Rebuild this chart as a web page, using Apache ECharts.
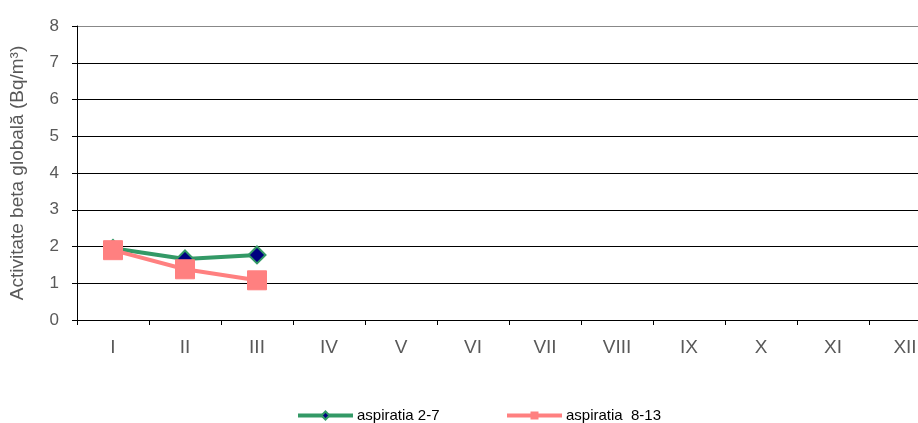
<!DOCTYPE html>
<html>
<head>
<meta charset="utf-8">
<script src="https://cdn.jsdelivr.net/npm/echarts@6/dist/echarts.min.js"></script>
<style>html,body{margin:0;padding:0;background:#fff;}#c{width:918px;height:423px;}</style>
</head>
<body>
<div id="c"></div>
<script>
const categories = ['I','II','III','IV','V','VI','VII','VIII','IX','X','XI','XII'];
const seriesNames = ['aspiratia 2-7', 'aspiratia  8-13'];
const aspiratia27 = [1.95, 1.66, 1.77, null, null, null, null, null, null, null, null, null];
const aspiratia813 = [1.9, 1.38, 1.08, null, null, null, null, null, null, null, null, null];
const yTicks = [0, 8, 1];

const chart = echarts.init(document.getElementById('c'));
const font = 'Liberation Sans, Arial, sans-serif';
const legendBase = {
  bottom: 0,
  padding: 0,
  itemWidth: 55,
  itemHeight: 10,
  itemGap: 4,
  textStyle: { fontFamily: font, fontSize: 15, color: '#000', padding: [0, 0, 0, -1] },
  lineStyle: { width: 4 }
};
chart.setOption({
  animation: false,
  backgroundColor: '#fff',
  grid: { left: 77, top: 26, bottom: 103, right: -23, containLabel: false, outerBoundsMode: 'none' },
  legend: [
    Object.assign({}, legendBase, { left: 296, data: [seriesNames[0]] }),
    Object.assign({}, legendBase, { left: 505, data: [seriesNames[1]] })
  ],
  xAxis: {
    type: 'category',
    data: categories,
    boundaryGap: true,
    axisLine: { lineStyle: { color: '#000', width: 1 } },
    axisTick: { show: true, length: 5, lineStyle: { color: '#000' } },
    axisLabel: { color: '#595959', fontFamily: font, fontSize: 19, margin: 18 },
    splitLine: { show: false }
  },
  yAxis: {
    type: 'value',
    min: yTicks[0], max: yTicks[1], interval: yTicks[2],
    name: 'Activitate beta globală (Bq/m³)',
    nameLocation: 'middle',
    nameGap: 50,
    nameTextStyle: { fontFamily: font, fontSize: 19, color: '#595959' },
    axisLine: { show: true, lineStyle: { color: '#000', width: 1 } },
    axisTick: { show: true, length: 5, lineStyle: { color: '#000' } },
    axisLabel: { color: '#595959', fontFamily: font, fontSize: 17, margin: 18 },
    splitLine: { show: true, lineStyle: { color: ['#000','#000','#000','#000','#000','#000','#000','#000','#888'], width: 1 } }
  },
  series: [
    {
      name: seriesNames[0],
      type: 'line',
      data: aspiratia27,
      symbol: 'diamond',
      symbolSize: 17,
      lineStyle: { color: '#339966', width: 4 },
      itemStyle: { color: '#000080', borderColor: '#339966', borderWidth: 2 },
      z: 2
    },
    {
      name: seriesNames[1],
      type: 'line',
      data: aspiratia813,
      symbol: 'rect',
      symbolSize: 19,
      lineStyle: { color: '#FF8080', width: 4 },
      itemStyle: { color: '#FF8080', borderColor: '#FF8080' },
      z: 3
    }
  ]
});
</script>
</body>
</html>
